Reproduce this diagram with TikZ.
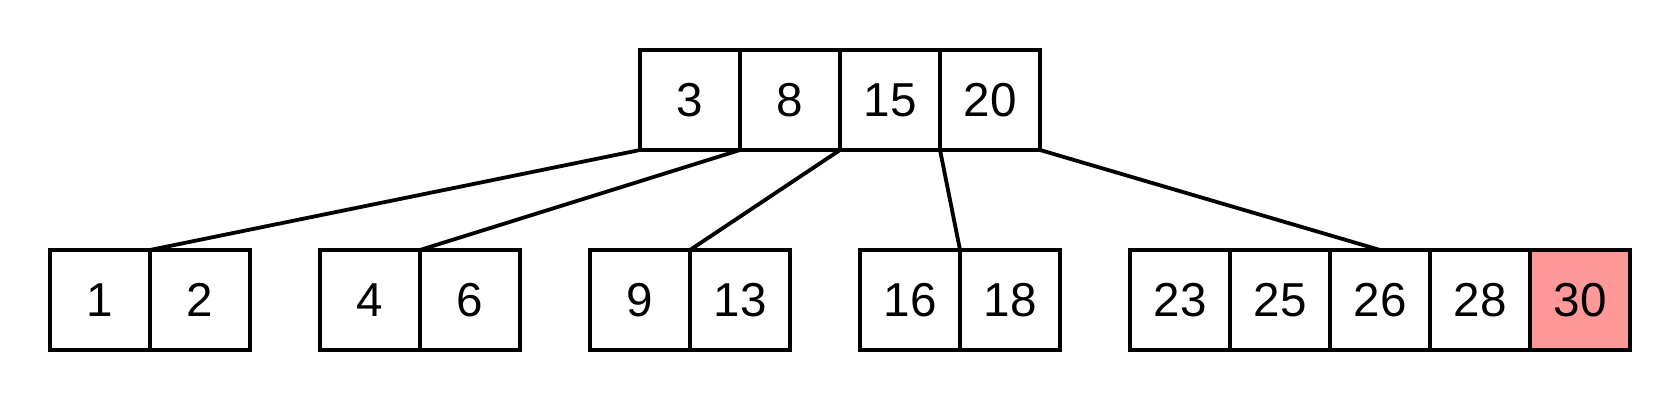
\documentclass[tikz,border=0pt]{standalone}
\usepackage{fontspec}
\setmainfont{Liberation Sans}
\definecolor{hl}{HTML}{FF9999}
\begin{document}
\begin{tikzpicture}[x=0.5pt,y=-0.5pt,
  cell/.style={draw=black, line width=2pt, minimum width=50pt, minimum height=50pt,
    inner sep=0pt, outer sep=0pt, font=\fontsize{23.8pt}{26pt}\selectfont, anchor=center},
  edge/.style={draw=black, line width=1.9pt}]
\useasboundingbox (0,0) rectangle (1680,400);
% root
\node[cell] (r1) at (690,100) {3};
\node[cell] (r2) at (790,100) {8};
\node[cell] (r3) at (890,100) {15};
\node[cell] (r4) at (990,100) {20};
% leaves
\node[cell] (a1) at (100,300) {1};
\node[cell] (a2) at (200,300) {2};
\node[cell] (b1) at (370,300) {4};
\node[cell] (b2) at (470,300) {6};
\node[cell] (c1) at (640,300) {9};
\node[cell] (c2) at (740,300) {13};
\node[cell] (d1) at (910,300) {16};
\node[cell] (d2) at (1010,300) {18};
\node[cell] (e1) at (1180,300) {23};
\node[cell] (e2) at (1280,300) {25};
\node[cell] (e3) at (1380,300) {26};
\node[cell] (e4) at (1480,300) {28};
\node[cell, fill=hl] (e5) at (1580,300) {30};
% edges
\draw[edge] (r1.south west) -- (a1.north east);
\draw[edge] (r1.south east) -- (b1.north east);
\draw[edge] (r2.south east) -- (c1.north east);
\draw[edge] (r3.south east) -- (d1.north east);
\draw[edge] (r4.south east) -- (e3.north);
\end{tikzpicture}
\end{document}
